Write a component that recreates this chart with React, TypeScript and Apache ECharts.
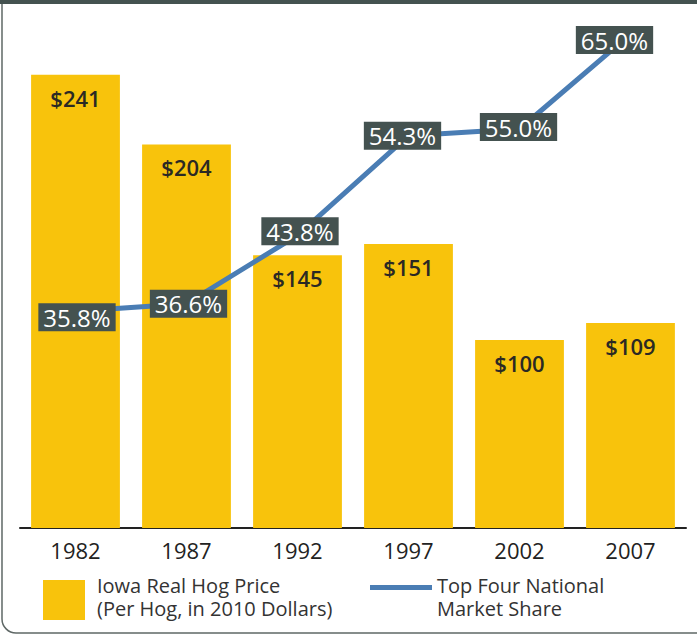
import React, { useEffect, useRef } from "react";
import * as echarts from "echarts";

const categories = ["1982", "1987", "1992", "1997", "2002", "2007"];
const hogPrice = [241, 204, 145, 151, 100, 109];
const marketShare = [35.8, 36.6, 43.8, 54.3, 55.0, 65.0];
const shareLabelOffsets = [
  [1.5, 6],
  [2, 0],
  [2.5, -4],
  [-6, 0],
  [-1, -2],
  [-16, 6],
];
const barName = "Iowa Real Hog Price\n(Per Hog, in 2010 Dollars)";
const lineName = "Top Four National\nMarket Share";

const FONT = "'Open Sans', 'Noto Sans', sans-serif";

const legendRich = {
  t: { fontSize: 20, lineHeight: 23, color: "#333", fontFamily: FONT },
  s: { fontSize: 1, lineHeight: 7 },
  s2: { fontSize: 1, lineHeight: 19 },
};

export default function App() {
  const ref = useRef<HTMLDivElement>(null);
  useEffect(() => {
    if (!ref.current) return;
    const chart = echarts.init(ref.current, null, { renderer: "svg" });
    chart.setOption({
      animation: false,
      backgroundColor: "#ffffff",
      textStyle: { fontFamily: FONT },
      grid: { left: 20, right: 11, top: 10, bottom: 108, containLabel: false },
      xAxis: {
        type: "category",
        data: categories,
        axisLine: { lineStyle: { color: "#222", width: 2 } },
        axisTick: { show: false },
        axisLabel: { fontSize: 22, color: "#222", margin: 11, fontFamily: FONT },
      },
      yAxis: [
        { type: "value", min: 0, max: 275.5, show: false, splitLine: { show: false } },
        { type: "value", min: 12.96, max: 67.54, show: false, splitLine: { show: false } },
      ],
      legend: [
        {
          data: [barName],
          left: 43,
          top: 575,
          padding: 0,
          icon: "rect",
          itemWidth: 42,
          itemHeight: 40,
          selectedMode: false,
          formatter: (name: string) =>
            name
              .split("\n")
              .map((l) => "{t|" + l + "}")
              .join("\n") + "\n{s| }",
          textStyle: {
            fontSize: 20,
            color: "#333",
            fontFamily: FONT,
            padding: [0, 0, 0, 7],
            rich: legendRich,
          },
        },
        {
          data: [lineName],
          left: 370,
          top: 564,
          padding: 0,
          icon: "rect",
          itemWidth: 62,
          itemHeight: 5,
          selectedMode: false,
          formatter: (name: string) =>
            "{s2| }\n" +
            name
              .split("\n")
              .map((l) => "{t|" + l + "}")
              .join("\n"),
          textStyle: {
            fontSize: 20,
            color: "#333",
            fontFamily: FONT,
            rich: legendRich,
          },
        },
      ],
      graphic: [
        {
          type: "rect",
          shape: { x: 2, y: 0, width: 720, height: 633, r: [0, 0, 0, 14] },
          style: { fill: "none", stroke: "#5f6866", lineWidth: 1.5 },
          silent: true,
        },
        {
          type: "rect",
          shape: { x: 0, y: 0, width: 697, height: 4 },
          style: { fill: "#445250" },
          silent: true,
        },
      ],
      series: [
        {
          name: barName,
          type: "bar",
          data: hogPrice,
          barCategoryGap: "20%",
          itemStyle: { color: "#f8c30c" },
          label: {
            show: true,
            position: "insideTop",
            distance: 12,
            formatter: (p: any) => "$" + p.value,
            fontSize: 22,
            fontWeight: 600,
            color: "#2b2924",
            fontFamily: FONT,
          },
        },
        {
          name: lineName,
          type: "line",
          yAxisIndex: 1,
          z: 5,
          data: marketShare.map((v, i) => ({
            value: v,
            label: { offset: shareLabelOffsets[i] },
          })),
          symbol: "circle",
          symbolSize: 1,
          lineStyle: { color: "#4a7db4", width: 5 },
          itemStyle: { color: "#4a7db4" },
          label: {
            show: true,
            position: "inside",
            formatter: (p: any) => Number(p.value).toFixed(1) + "%",
            backgroundColor: "#445250",
            color: "#ffffff",
            fontSize: 24,
            fontWeight: 500,
            lineHeight: 26,
            padding: [1, 5],
            fontFamily: FONT,
          },
        },
      ],
    });
    return () => chart.dispose();
  }, []);
  return (
    <div
      ref={ref}
      style={{ position: "absolute", left: 0, top: 0, width: 697, height: 636 }}
    />
  );
}
